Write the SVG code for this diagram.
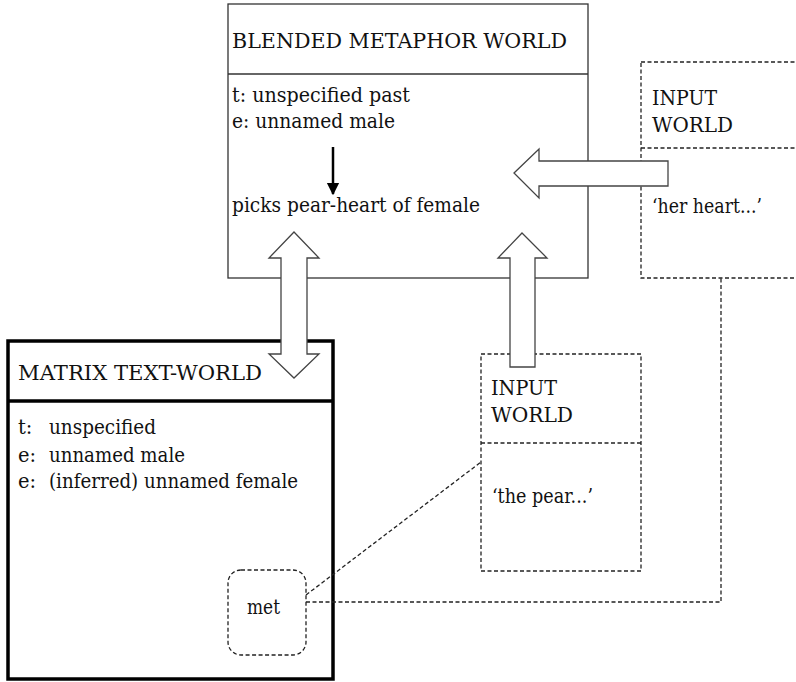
<svg xmlns="http://www.w3.org/2000/svg" width="796" height="682" viewBox="0 0 796 682">
<style>
.t{font-family:'DejaVu Serif','Liberation Serif',serif;font-size:19.5px;fill:#111}
.solid{fill:#fff;stroke:#333;stroke-width:1.3}
.dash{fill:#fff;stroke:#222;stroke-width:1.3;stroke-dasharray:4 2.5}
.dline{fill:none;stroke:#222;stroke-width:1.3;stroke-dasharray:4 2.5}
.thick{fill:#fff;stroke:#000;stroke-width:3.5}
.block{fill:#fff;stroke:#444;stroke-width:1.3}
</style>
<defs>
<marker id="ah" viewBox="0 0 10 10" refX="9" refY="5" markerWidth="5" markerHeight="6" orient="auto" markerUnits="strokeWidth">
<path d="M0,0 L10,5 L0,10 Z" fill="#000"/>
</marker>
</defs>
<rect width="796" height="682" fill="#fff"/>

<g id="blended">
<rect class="solid" x="228" y="4" width="360" height="274"/>
<line class="solid" x1="228" y1="74" x2="588" y2="74"/>
<text class="t" x="232" y="48" textLength="335" lengthAdjust="spacingAndGlyphs">BLENDED METAPHOR WORLD</text>
<text class="t" x="232" y="102" textLength="178" lengthAdjust="spacingAndGlyphs">t: unspecified past</text>
<text class="t" x="232" y="128" textLength="163" lengthAdjust="spacingAndGlyphs">e: unnamed male</text>
<line x1="333" y1="147" x2="333" y2="194" stroke="#000" stroke-width="2.5" marker-end="url(#ah)"/>
<text class="t" x="232" y="212" textLength="248" lengthAdjust="spacingAndGlyphs">picks pear-heart of female</text>
</g>

<g id="input-top">
<rect class="dash" x="641" y="62" width="170" height="216"/>
<line class="dline" x1="641" y1="148" x2="811" y2="148"/>
<text class="t" x="652" y="105" textLength="65" lengthAdjust="spacingAndGlyphs">INPUT</text>
<text class="t" x="652" y="132" textLength="81" lengthAdjust="spacingAndGlyphs">WORLD</text>
<text class="t" x="652" y="213" textLength="110" lengthAdjust="spacingAndGlyphs">‘her heart...’</text>
</g>

<g id="matrix">
<rect class="thick" x="8" y="341" width="325" height="338"/>
<line class="thick" x1="8" y1="401" x2="333" y2="401"/>
<text class="t" x="18" y="380" textLength="244" lengthAdjust="spacingAndGlyphs">MATRIX TEXT-WORLD</text>
<text class="t" x="18" y="434">t:</text>
<text class="t" x="49" y="434" textLength="107" lengthAdjust="spacingAndGlyphs">unspecified</text>
<text class="t" x="18" y="462">e:</text>
<text class="t" x="49" y="462" textLength="136" lengthAdjust="spacingAndGlyphs">unnamed male</text>
<text class="t" x="18" y="488">e:</text>
<text class="t" x="49" y="488" textLength="249" lengthAdjust="spacingAndGlyphs">(inferred) unnamed female</text>
</g>

<g id="met">
<rect class="dash" x="228" y="570" width="78" height="85" rx="13" ry="13"/>
<text class="t" x="247" y="614" textLength="33" lengthAdjust="spacingAndGlyphs">met</text>
</g>

<g id="input-bottom">
<rect class="dash" x="481" y="354" width="160" height="217"/>
<line class="dline" x1="481" y1="443" x2="641" y2="443"/>
<text class="t" x="491" y="395" textLength="66" lengthAdjust="spacingAndGlyphs">INPUT</text>
<text class="t" x="491" y="422" textLength="82" lengthAdjust="spacingAndGlyphs">WORLD</text>
<text class="t" x="492" y="503" textLength="101" lengthAdjust="spacingAndGlyphs">‘the pear...’</text>
</g>

<g id="connectors">
<polygon class="block" points="514,173 539,149 539,161 668,161 668,186 539,186 539,198"/>
<polygon class="block" points="522,233 547,258 535,258 535,367 510,367 510,258 498,258"/>
<polygon class="block" points="294,232 319,258 307,258 307,354 319,354 294,378 269,354 281,354 281,258 269,258"/>
<line class="dline" x1="306" y1="595" x2="481" y2="462"/>
<polyline class="dline" points="306,602 721,602 721,278"/>
</g>
</svg>
